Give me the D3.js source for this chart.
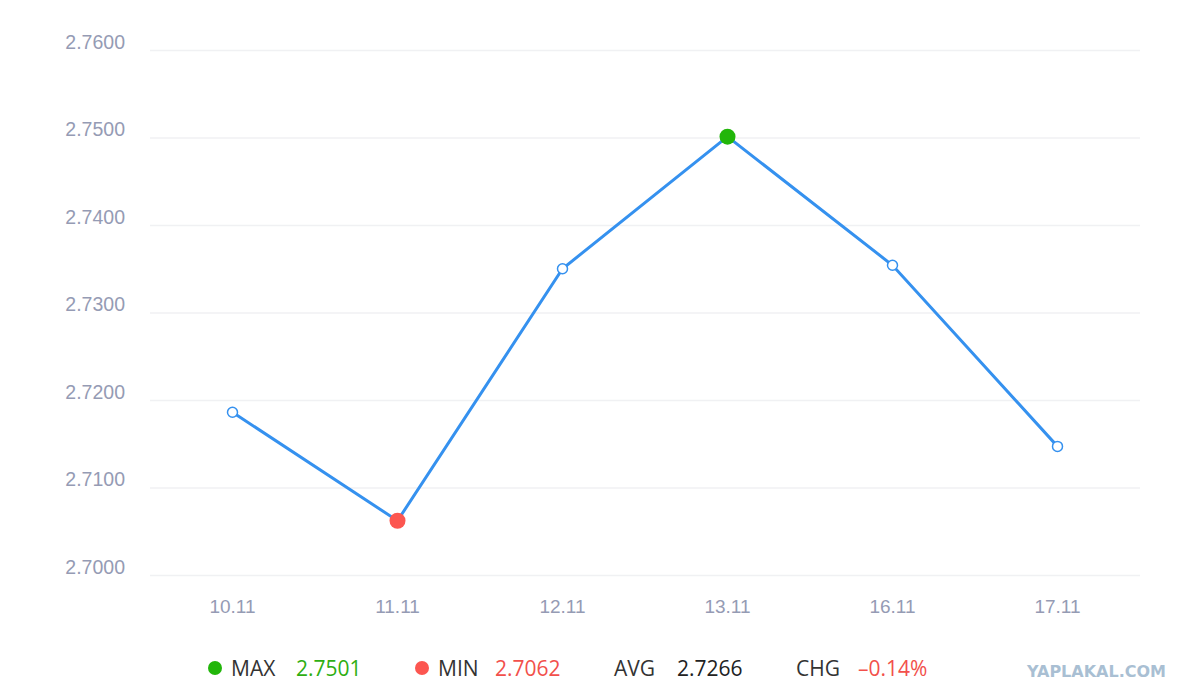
<!DOCTYPE html>
<html>
<head>
<meta charset="utf-8">
<script src="https://cdn.jsdelivr.net/npm/d3@7"></script>
<style>
  body { margin: 0; background: #fff; }
  svg { display: block; font-family: "Open Sans", "Noto Sans", sans-serif; }
</style>
</head>
<body>
<svg id="chart" width="1193" height="700"></svg>
<script>
// data
const dates = ["10.11", "11.11", "12.11", "13.11", "16.11", "17.11"];
const rates = [2.7186, 2.7062, 2.7350, 2.7501, 2.7354, 2.7147];
const yTicks = [2.70, 2.71, 2.72, 2.73, 2.74, 2.75, 2.76];

const margin = {top: 50, right: 53, bottom: 125, left: 150},
    width = 1193 - margin.left - margin.right,
    height = 700 - margin.top - margin.bottom;

const svg = d3.select("#chart");
const g = svg.append("g")
    .attr("transform", "translate(" + margin.left + "," + margin.top + ")");

let x = d3.scaleBand().domain(dates).range([0, width]);
let y = d3.scaleLinear().domain([2.70, 2.76]).range([height, 0]);

// grid + y labels
let yAxis = d3.axisLeft(y).tickValues(yTicks)
    .tickSize(-width).tickFormat(d3.format(".4f"));
let ya = g.append("g").call(yAxis);
ya.select(".domain").remove();
ya.selectAll("line").attr("stroke", "#f0f1f3").attr("stroke-width", 1.5);
ya.selectAll("text")
    .attr("x", -25).attr("dy", "-0.1em")
    .attr("fill", "#959bb4").style("font-size", "19.5px");

// x labels
let xa = g.append("g").attr("transform", "translate(0," + height + ")")
    .call(d3.axisBottom(x).tickSize(0));
xa.select(".domain").remove();
xa.selectAll("text").attr("dy", "1.85em")
    .attr("fill", "#959bb4").style("font-size", "19px");

const pts = dates.map((d, i) => ({date: d, v: rates[i]}));
const cx = d => x(d.date) + x.bandwidth() / 2;

let line = d3.line().x(cx).y(d => y(d.v));
g.append("path").datum(pts)
    .attr("d", line)
    .attr("fill", "none")
    .attr("stroke", "#3591ef")
    .attr("stroke-width", 3);

const maxV = d3.max(rates), minV = d3.min(rates);

g.selectAll("circle.pt").data(pts).enter()
    .append("circle")
    .attr("class", "pt")
    .attr("cx", cx)
    .attr("cy", d => y(d.v))
    .attr("r", d => (d.v === maxV || d.v === minV) ? 8 : 5)
    .attr("fill", d => d.v === maxV ? "#22b60a" : d.v === minV ? "#fc5650" : "#fff")
    .attr("stroke", d => (d.v === maxV || d.v === minV) ? "none" : "#3591ef")
    .attr("stroke-width", 1.5);

// legend / summary row
const avg = d3.mean(rates);
const chg = (rates[rates.length - 1] - rates[0]) / rates[0] * 100;
const ly = 676;
const legend = svg.append("g").style("font-size", "21px");

legend.append("circle").attr("cx", 215).attr("cy", ly - 8).attr("r", 7).attr("fill", "#22b60a");
legend.append("text").attr("x", 231).attr("y", ly).attr("fill", "#333").text("MAX");
legend.append("text").attr("x", 296).attr("y", ly).attr("fill", "#2eae12").text(d3.format(".4f")(maxV));

legend.append("circle").attr("cx", 422).attr("cy", ly - 8).attr("r", 7).attr("fill", "#fc5650");
legend.append("text").attr("x", 438).attr("y", ly).attr("fill", "#333").text("MIN");
legend.append("text").attr("x", 495).attr("y", ly).attr("fill", "#f2504b").text(d3.format(".4f")(minV));

legend.append("text").attr("x", 614).attr("y", ly).attr("fill", "#333").text("AVG");
legend.append("text").attr("x", 677).attr("y", ly).attr("fill", "#222").text(d3.format(".4f")(avg - 0.0001));

legend.append("text").attr("x", 796).attr("y", ly).attr("fill", "#333").text("CHG");
legend.append("text").attr("x", 858).attr("y", ly).attr("fill", "#f2504b")
    .text("\u2013" + d3.format(".2f")(Math.abs(chg)) + "%");

// watermark
svg.append("text").attr("x", 1166).attr("y", 677)
    .attr("text-anchor", "end")
    .attr("fill", "#a9bfd3")
    .style("font-family", "'DejaVu Sans', sans-serif")
    .style("font-weight", "bold")
    .style("font-size", "16px")
    .text("YAPLAKAL.COM");
</script>
</body>
</html>
